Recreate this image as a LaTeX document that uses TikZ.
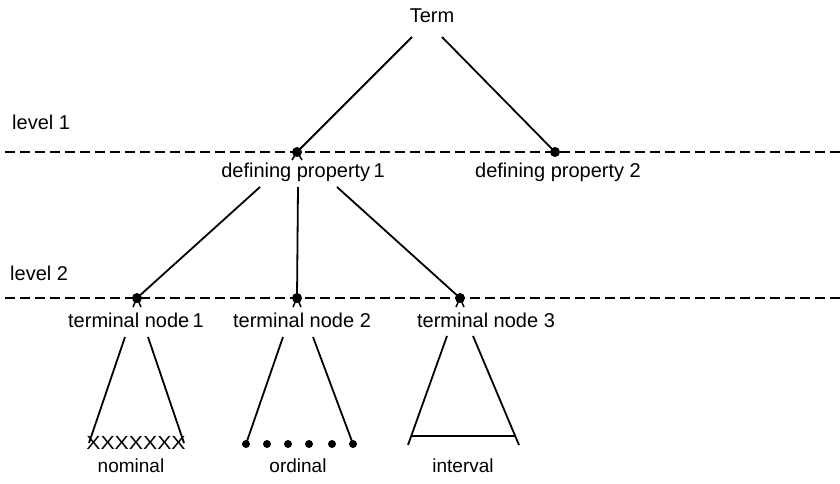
\documentclass[tikz,border=0pt]{standalone}
\usepackage{fontspec}
\setmainfont{Liberation Sans}
\begin{document}
\begin{tikzpicture}[x=1pt,y=-1pt,
  lbl/.style={font=\fontsize{20}{24}\selectfont, anchor=base, inner sep=0pt},
  small/.style={font=\fontsize{19}{23}\selectfont, anchor=base, inner sep=0pt},
  edge/.style={line width=1.8pt},
  tick/.style={line width=1.5pt},
  lvl/.style={line width=1.5pt, dash pattern=on 10pt off 5pt},
  dotn/.style={circle, fill=black, inner sep=0pt, minimum size=10pt},
  sdot/.style={circle, fill=black, inner sep=0pt, minimum size=8pt},
]
\useasboundingbox (0,0) rectangle (840,484);

% level lines
\coordinate (l1a) at (5,152); \coordinate (l1b) at (840,152);
\coordinate (l2a) at (5,298); \coordinate (l2b) at (840,298);
\draw[lvl] (l1a) -- (l1b);
\draw[lvl] (l2a) -- (l2b);
\node[lbl,anchor=base west] (lv1) at (12,130) {level 1};
\node[lbl,anchor=base west] (lv2) at (10,280) {level 2};

% root
\node[lbl] (term) at (432,23) {Term};
\coordinate (ta) at (412,37);
\coordinate (tb) at (442,37);

% level 1 nodes
\node[dotn] (dp1) at (297,152) {};
\node[dotn] (dp2) at (555,152) {};
\node[lbl] (dp1l) at (303,177) {defining property\,1};
\node[lbl] (dp2l) at (558,177) {defining property 2};
\draw[edge] (ta) -- (dp1.center);
\draw[edge] (tb) -- (dp2.center);
\draw[tick] (dp1.center) -- ++(-5,8) (dp1.center) -- ++(5,8);

% level 2 nodes
\node[dotn] (n1) at (137,298) {};
\node[dotn] (n2) at (297,298) {};
\node[dotn] (n3) at (460,298) {};
\node[lbl] (n1l) at (136,327) {terminal node\,1};
\node[lbl] (n2l) at (302,327) {terminal node 2};
\node[lbl] (n3l) at (486,327) {terminal node 3};
\coordinate (da) at (260,187);
\coordinate (db) at (298,187);
\coordinate (dc) at (337,187);
\draw[edge] (da) -- (n1.center);
\draw[edge] (db) -- (n2.center);
\draw[edge] (dc) -- (n3.center);
\foreach \n in {n1,n2,n3}
  \draw[tick] (\n.center) -- ++(-4,9) (\n.center) -- ++(4,9);

% nominal
\coordinate (a1) at (125,337); \coordinate (a2) at (89,443);
\coordinate (b1) at (148,337); \coordinate (b2) at (184,443);
\draw[edge] (a1) -- (a2);
\draw[edge] (b1) -- (b2);
\node[inner sep=0pt, font=\fontsize{19}{21}\selectfont] (xs) at (136,443) {\scalebox{1.12}[1]{XXXXXXX}};
\node[small] (nom) at (131,472) {nominal};

% ordinal
\coordinate (c1) at (283,337); \coordinate (c2) at (246,444);
\coordinate (e1) at (313,337); \coordinate (e2) at (353,444);
\draw[edge] (c1) -- (c2);
\draw[edge] (e1) -- (e2);
\foreach \x/\k in {246/1,267/2,288/3,309/4,332/5,353/6}
  \node[sdot] (o\k) at (\x,444) {};
\node[small] (ord) at (298,472) {ordinal};

% interval
\coordinate (f1) at (447,336); \coordinate (f2) at (408,445);
\coordinate (g1) at (473,336); \coordinate (g2) at (519,445);
\coordinate (h1) at (412,436); \coordinate (h2) at (515,436);
\draw[edge] (f1) -- (f2);
\draw[edge] (g1) -- (g2);
\draw[edge] (h1) -- (h2);
\node[small] (intv) at (463,472) {interval};
\end{tikzpicture}
\end{document}
